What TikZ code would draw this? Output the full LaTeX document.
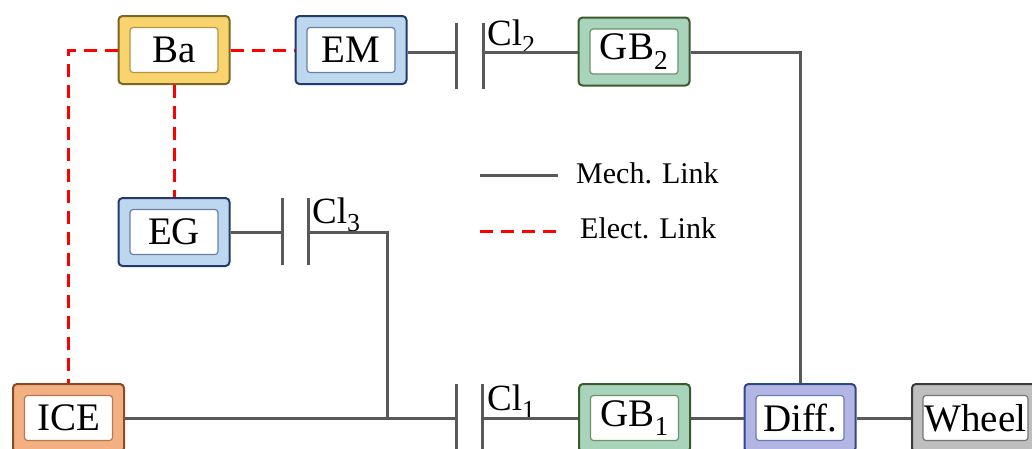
\documentclass[tikz,border=0pt]{standalone}
\usepackage{fontspec}
\setmainfont{Liberation Serif}
\definecolor{mech}{HTML}{595959}
\definecolor{elec}{HTML}{FF0000}
\definecolor{baF}{HTML}{F9D46E}\definecolor{baD}{HTML}{7A6524}
\definecolor{emF}{HTML}{BDD7EE}\definecolor{emD}{HTML}{22396B}
\definecolor{gbF}{HTML}{A8D4BC}\definecolor{gbD}{HTML}{3D5A2C}
\definecolor{dfF}{HTML}{B3B6E4}\definecolor{dfD}{HTML}{2E4A82}
\definecolor{icF}{HTML}{F3B083}\definecolor{icD}{HTML}{8A4B22}
\definecolor{whF}{HTML}{BEBEBE}\definecolor{whD}{HTML}{3A3A3A}
\tikzset{
  outerbox/.style 2 args={draw=#1, fill=#2, line width=2pt, rounded corners=4pt,
    minimum width=111pt, minimum height=68pt, inner sep=0pt},
  innerbox/.style 2 args={draw=#1!55!#2, fill=white, line width=1.2pt, rounded corners=3pt,
    minimum width=88pt, minimum height=45pt, inner sep=0pt,
    font=\fontsize{39}{41}\selectfont},
  mlink/.style={draw=mech, line width=3pt},
  elink/.style={draw=elec, line width=3pt, dash pattern=on 13pt off 8pt},
  plate/.style={draw=mech, line width=3pt},
  cllabel/.style={anchor=base west, inner sep=0pt, font=\fontsize{37}{39}\selectfont},
  leglabel/.style={anchor=base west, inner sep=0pt, font=\fontsize{30}{32}\selectfont}
}
\begin{document}
\begin{tikzpicture}[x=1pt,y=-1pt]
\useasboundingbox (0,0) rectangle (1032,448);
% boxes
\node[outerbox={baD}{baF}] (ba) at (174,50) {};
\node[innerbox={baD}{baF}] (bat) at (ba.center) {Ba};
\node[outerbox={emD}{emF}] (em) at (351,50) {};
\node[innerbox={emD}{emF}] (emt) at (em.center) {EM};
\node[outerbox={emD}{emF}] (eg) at (174,232) {};
\node[innerbox={emD}{emF}] (egt) at (eg.center) {EG};
\node[outerbox={icD}{icF}] (ice) at (68.5,418) {};
\node[innerbox={icD}{icF}] (icet) at (ice.center) {ICE};
\node[outerbox={gbD}{gbF}] (gb2) at (634,51.5) {};
\node[innerbox={gbD}{gbF}] (gb2t) at (gb2.center) {GB\textsubscript{2}};
\node[outerbox={gbD}{gbF}] (gb1) at (634.5,418) {};
\node[innerbox={gbD}{gbF}] (gb1t) at (gb1.center) {GB\textsubscript{1}};
\node[outerbox={dfD}{dfF}] (diff) at (800,418) {};
\node[innerbox={dfD}{dfF}] (difft) at (diff.center) {Diff.};
\node[outerbox={whD}{whF}, minimum width=127pt] (wheel) at (975.5,418) {};
\node[innerbox={whD}{whF}, minimum width=105pt] (wheelt) at (wheel.center) {Wheel};
% clutch Cl2
\coordinate (c2a) at (456,52);
\coordinate (c2b) at (483,52);
\draw[plate] (456,23) -- (456,89);
\draw[plate] (483,23) -- (483,89);
\node[cllabel] (cl2) at (487,45) {Cl\textsubscript{2}};
% clutch Cl3
\coordinate (c3a) at (282,232);
\coordinate (c3b) at (308,232);
\draw[plate] (282,198) -- (282,265);
\draw[plate] (308,198) -- (308,265);
\node[cllabel] (cl3) at (312,223) {Cl\textsubscript{3}};
% clutch Cl1
\coordinate (c1a) at (456,418);
\coordinate (c1b) at (482,418);
\draw[plate] (456,384) -- (456,452);
\draw[plate] (482,384) -- (482,452);
\node[cllabel] (cl1) at (487,410) {Cl\textsubscript{1}};
% mechanical links
\coordinate (j3) at (387,418);
\draw[mlink] (em.east |- c2a) -- (c2a);
\draw[mlink] (c2b) -- (gb2.west |- c2b);
\draw[mlink] (gb2.east |- c2b) -| (diff.north);
\draw[mlink] (eg.east) -- (c3a);
\draw[mlink] (c3b) -| (j3);
\draw[mlink] (ice.east) -- (c1a);
\draw[mlink] (c1b) -- (gb1.west);
\draw[mlink] (gb1.east) -- (diff.west);
\draw[mlink] (diff.east) -- (wheel.west);
% electrical links
\draw[elink] (ba.west) -- (ba.west -| ice.north) -- (ice.north);
\draw[elink] (ba.east) -- (em.west);
\draw[elink] (ba.south) -- (eg.north);
% legend
\coordinate (lm1) at (480,175);
\coordinate (lm2) at (558,175);
\coordinate (le1) at (480,231.5);
\coordinate (le2) at (558,231.5);
\draw[mlink] (lm1) -- (lm2);
\draw[elink] (le1) -- (le2);
\node[leglabel] (legm) at (576,183) {Mech. Link};
\node[leglabel] (lege) at (580,238) {Elect. Link};
\end{tikzpicture}
\end{document}
